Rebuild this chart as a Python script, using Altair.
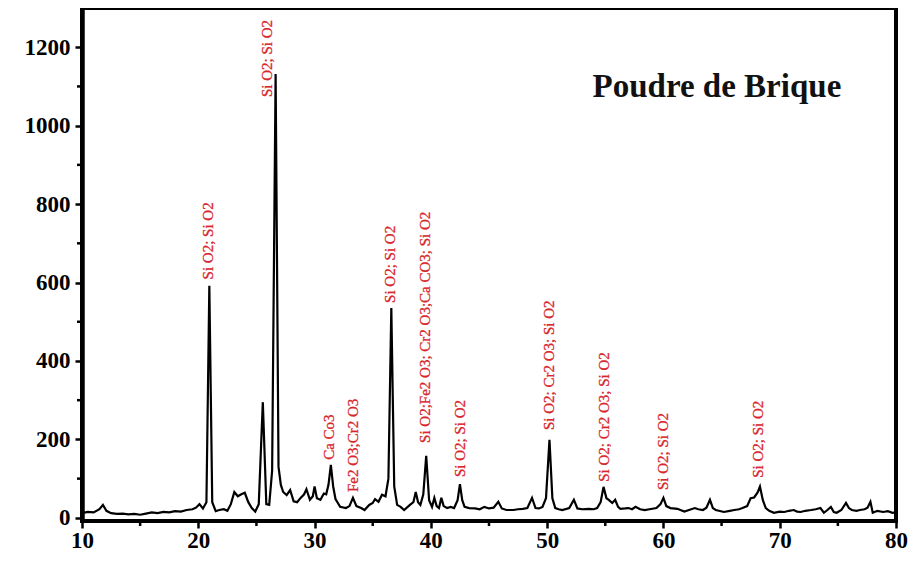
import altair as alt
import pandas as pd

# XRD pattern: 2-theta (deg) and intensity (counts)
two_theta = [10.0, 10.5, 11.0, 11.5, 11.8, 12.1, 12.5, 13.0, 13.5, 14.0, 14.5, 15.0, 15.5, 16.0, 16.5,
             17.0, 17.5, 18.0, 18.5, 19.0, 19.5, 19.8, 20.1, 20.4, 20.7, 20.95, 21.2, 21.5, 21.8, 22.2,
             22.5, 22.8, 23.1, 23.4, 23.7, 24.0, 24.3, 24.6, 24.9, 25.2, 25.55, 25.85, 26.1, 26.35, 26.65,
             26.9, 27.1, 27.3, 27.6, 27.9, 28.2, 28.5, 28.8, 29.1, 29.3, 29.6, 29.85, 30.0, 30.2, 30.5,
             30.8, 31.0, 31.2, 31.4, 31.6, 31.8, 32.2, 32.7, 33.0, 33.3, 33.6, 34.0, 34.3, 34.7, 35.0,
             35.2, 35.5, 35.8, 36.1, 36.35, 36.6, 36.85, 37.1, 37.4, 37.7, 38.2, 38.5, 38.7, 38.9, 39.1,
             39.35, 39.6, 39.85, 40.1, 40.3, 40.5, 40.7, 40.9, 41.1, 41.4, 41.7, 42.0, 42.3, 42.5, 42.7,
             42.9, 43.3, 43.8, 44.2, 44.6, 45.0, 45.4, 45.8, 46.1, 46.5, 47.1, 47.5, 47.9, 48.3, 48.7,
             49.0, 49.3, 49.6, 49.9, 50.2, 50.45, 50.7, 51.0, 51.3, 51.9, 52.3, 52.6, 53.0, 53.6, 54.0,
             54.3, 54.6, 54.85, 55.1, 55.3, 55.6, 55.85, 56.1, 56.3, 56.7, 57.0, 57.3, 57.6, 58.0, 58.4,
             58.8, 59.4, 59.75, 60.0, 60.25, 60.6, 61.2, 61.8, 62.2, 62.7, 63.0, 63.4, 63.7, 64.0, 64.25,
             64.5, 65.2, 65.7, 66.1, 66.5, 66.8, 67.2, 67.5, 67.8, 68.1, 68.3, 68.55, 68.8, 69.1, 69.5,
             70.0, 70.4, 70.8, 71.2, 71.5, 71.8, 72.2, 72.7, 73.1, 73.5, 73.8, 74.1, 74.4, 74.65, 74.9,
             75.3, 75.7, 75.95, 76.2, 76.6, 76.9, 77.3, 77.55, 77.8, 78.0, 78.4, 78.9, 79.3, 79.7, 80.0]
intensity = [12, 15, 14, 22, 33, 18, 12, 10, 11, 9, 10, 8, 11, 14, 12,
             15, 14, 17, 16, 20, 22, 26, 35, 24, 40, 592, 40, 17, 20, 22,
             18, 35, 66, 55, 60, 64, 40, 25, 16, 35, 295, 35, 33, 120, 1132,
             130, 84, 66, 58, 71, 42, 40, 51, 60, 73, 46, 55, 80, 50, 46,
             62, 60, 85, 135, 80, 48, 28, 25, 30, 51, 30, 25, 20, 33, 38,
             48, 41, 59, 55, 100, 535, 80, 33, 28, 20, 33, 40, 66, 40, 33,
             60, 158, 45, 28, 51, 30, 25, 51, 30, 25, 28, 25, 45, 86, 45,
             28, 25, 24, 22, 28, 24, 26, 41, 24, 20, 20, 22, 23, 25, 51,
             25, 24, 28, 50, 199, 50, 25, 22, 20, 25, 46, 24, 22, 23, 22,
             25, 40, 79, 50, 46, 38, 46, 28, 23, 24, 25, 22, 28, 22, 20,
             22, 25, 35, 51, 30, 25, 23, 16, 20, 25, 22, 20, 26, 46, 25,
             20, 15, 18, 20, 22, 25, 30, 50, 52, 65, 80, 45, 25, 18, 13,
             16, 15, 18, 20, 16, 15, 18, 20, 22, 25, 13, 20, 28, 15, 13,
             20, 38, 25, 20, 18, 20, 22, 26, 41, 13, 18, 15, 17, 13, 14]

# Phase annotations: position (2-theta), start height, text
label_theta = [20.8, 25.9, 31.2, 33.3, 36.5, 39.5, 42.5, 50.2, 54.9, 60.0, 68.1]
label_start = [608, 1073, 148, 66, 548, 191, 104, 224, 92, 71, 102]
label_text = ["Si O2; Si O2", "Si O2; Si O2", "Ca Co3", "Fe2 O3;Cr2 O3", "Si O2; Si O2",
              "Si O2;Fe2 O3; Cr2 O3;Ca CO3; Si O2", "Si O2; Si O2", "Si O2; Cr2 O3; Si O2",
              "Si O2; Cr2 O3; Si O2", "Si O2; Si O2", "Si O2; Si O2"]

# In-plot title
title_text = ["Poudre de Brique"]
title_theta = [64.6]
title_level = [1098]

x_ticks = [10, 20, 30, 40, 50, 60, 70, 80]
x_minor = [15, 25, 35, 45, 55, 65, 75]
y_ticks = [0, 200, 400, 600, 800, 1000, 1200]
y_minor = [100, 300, 500, 700, 900, 1100]

W, H = 814, 513
FONT = "Liberation Serif"
RED = "#d8262c"

xs = alt.Scale(domain=[10, 80], nice=False, zero=False)
ys = alt.Scale(domain=[-8, 1300], nice=False, zero=False)

df = pd.DataFrame({"t": two_theta, "i": intensity})
lab = pd.DataFrame({"t": label_theta, "i": label_start, "txt": label_text})
ttl = pd.DataFrame({"t": title_theta, "i": title_level, "txt": title_text})
xm = pd.DataFrame({"t": x_minor})
ym = pd.DataFrame({"i": y_minor})

line = alt.Chart(df).mark_line(color="black", strokeWidth=2.2, clip=True).encode(
    x=alt.X("t:Q", scale=xs, title=None,
            axis=alt.Axis(values=x_ticks, format="d", grid=False, tickSize=7, tickWidth=2.5,
                          tickColor="black", domainColor="black", domainWidth=2.5,
                          labelFont=FONT, labelFontSize=23, labelFontWeight="bold",
                          labelColor="black", labelPadding=1, labelFlush=False)),
    y=alt.Y("i:Q", scale=ys, title=None,
            axis=alt.Axis(values=y_ticks, format="d", grid=False, tickSize=7, tickWidth=2.5,
                          tickColor="black", domainColor="black", domainWidth=4.5,
                          labelFont=FONT, labelFontSize=23, labelFontWeight="bold",
                          labelColor="black", labelPadding=5)),
)

labels = alt.Chart(lab).mark_text(angle=270, align="left", baseline="middle", font=FONT,
                                   fontSize=15, color=RED, stroke=RED, strokeWidth=0.3).encode(
    x=alt.X("t:Q", scale=xs), y=alt.Y("i:Q", scale=ys), text="txt:N")

title = alt.Chart(ttl).mark_text(font=FONT, fontSize=33, fontWeight="bold", color="#111111").encode(
    x=alt.X("t:Q", scale=xs), y=alt.Y("i:Q", scale=ys), text="txt:N")

xminor = alt.Chart(xm).mark_rule(color="black", strokeWidth=2.5).encode(
    x=alt.X("t:Q", scale=xs), y=alt.value(H), y2=alt.value(H + 5))
yminor = alt.Chart(ym).mark_rule(color="black", strokeWidth=2.5).encode(
    y=alt.Y("i:Q", scale=ys), x=alt.value(-5), x2=alt.value(0))

chart = alt.layer(line, labels, title, xminor, yminor).properties(
    width=W, height=H,
    autosize=alt.AutoSizeParams(type="none"),
    padding={"left": 74, "top": 0, "right": 12, "bottom": 33},
).configure(background="white").configure_view(stroke="black", strokeWidth=4)

chart.save("out.html", embed_options={"renderer": "svg", "actions": False})
